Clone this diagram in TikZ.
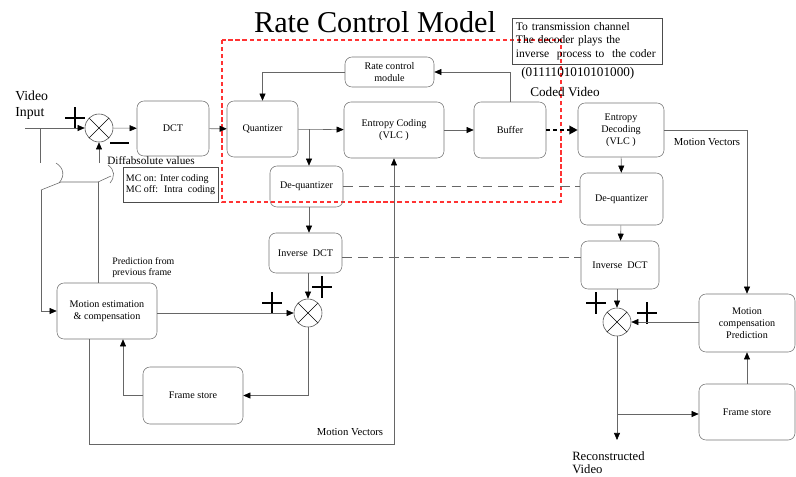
\documentclass[tikz,border=0pt]{standalone}
\usepackage{fontspec}
\setmainfont{Liberation Serif}
\usetikzlibrary{arrows.meta}

\begin{document}
\begin{tikzpicture}[x=0.025cm,y=-0.025cm,
  box/.style={draw=black!55,rounded corners=5pt,align=center,inner sep=1pt,font=\fontsize{7.2}{8.6}\selectfont},
  sqbox/.style={draw=black!70,align=left,inner sep=2pt},
  sumnode/.style={draw=black!70,circle,minimum size=0.7cm,inner sep=0pt,
    path picture={\draw[black] (path picture bounding box.north west) -- (path picture bounding box.south east)
      (path picture bounding box.north east) -- (path picture bounding box.south west);}},
  conn/.style={draw=black!60},
  arr/.style={conn,-{Triangle[length=5pt,width=4.2pt,color=black]}},
  gapline/.style={draw=black!60,dash pattern=on 7pt off 4pt},
  lbl/.style={font=\fontsize{7.6}{8.6}\selectfont},
  plusmark/.pic={\draw[line width=1.8pt] (-10,0) -- (10,0) (0,-11) -- (0,11);}
]
\useasboundingbox (0,0) rectangle (796,476);

% title and notes
\node[anchor=base,font=\fontsize{21.5}{24}\selectfont] (title) at (375,32) {Rate Control Model};
\draw[red!80,dash pattern=on 3pt off 2pt,line width=0.8pt] (222,40) rectangle (561,202);
\node[sqbox,minimum width=3.75cm,minimum height=1.15cm,text width=3.55cm,
  font=\fontsize{8.2}{9.6}\selectfont] (chan) at (587,41)
  {To transmission channel\\The decoder plays the\\inverse~ process to~ the coder};
\node[anchor=base west,inner sep=0pt,font=\fontsize{9.4}{11}\selectfont] (bits) at (521,76) {(0111101010101000)};
\node[anchor=base west,inner sep=0pt,font=\fontsize{9.4}{11}\selectfont] (coded) at (530,96) {Coded Video};
\node[anchor=north west,inner sep=0pt,align=left,font=\fontsize{9.8}{10.8}\selectfont] (vidin) at (15,91) {Video\\Input};

% encoder
\node[sumnode] (sum1) at (99,128) {};
\node[box,minimum width=1.8cm,minimum height=1.375cm] (dct) at (173,128.5) {DCT};
\node[box,minimum width=1.775cm,minimum height=1.4cm] (quant) at (262.5,129) {Quantizer};
\node[box,minimum width=2.225cm,minimum height=0.75cm] (rate) at (389.5,72) {Rate control\\module};
\node[box,minimum width=2.5cm,minimum height=1.4cm] (ent) at (394,130) {Entropy Coding\\(VLC )};
\node[box,minimum width=1.8cm,minimum height=1.4cm] (buf) at (510,130) {Buffer};
\node[box,minimum width=1.825cm,minimum height=1.025cm] (deq) at (306.5,186.5) {De-quantizer};
\node[box,minimum width=1.825cm,minimum height=1.0cm] (idct) at (305.5,253) {Inverse~ DCT};
\node[sumnode] (sum2) at (308,313) {};
\node[box,minimum width=2.5cm,minimum height=1.4cm] (me) at (107,311) {Motion estimation\\\& compensation};
\node[box,minimum width=2.5cm,minimum height=1.425cm] (fs) at (193,395.5) {Frame store};
\node[sqbox,minimum width=2.375cm,minimum height=0.875cm,inner sep=1.5pt,font=\fontsize{7.1}{7.8}\selectfont] (mcsw) at (170.5,184.5)
  {MC on: Inter coding\\MC off:~ Intra~ coding};
\node[anchor=base west,inner sep=0pt,font=\fontsize{8}{9}\selectfont] (diff) at (107,164) {Diffabsolute values};
\node[anchor=north west,inner sep=0pt,align=left,font=\fontsize{7}{7.8}\selectfont] (pred) at (112,257) {Prediction from\\previous frame};
\node[lbl] (mv1) at (350,432) {Motion Vectors};

% decoder
\node[box,minimum width=2.15cm,minimum height=1.35cm] (entd) at (621,130) {Entropy\\Decoding\\(VLC )};
\node[box,minimum width=2.075cm,minimum height=1.3cm] (deqd) at (621.5,199) {De-quantizer};
\node[box,minimum width=1.95cm,minimum height=1.2cm] (idctd) at (620,265) {Inverse~ DCT};
\node[sumnode] (sum3) at (617,322) {};
\node[box,minimum width=2.4cm,minimum height=1.45cm] (mcp) at (747,323) {Motion\\compensation\\Prediction};
\node[box,minimum width=2.4cm,minimum height=1.4cm] (fsd) at (747,412) {Frame store};
\node[lbl] (mv2) at (707,142) {Motion Vectors};
\node[anchor=north west,inner sep=0pt,align=left,font=\fontsize{9}{9.4}\selectfont] (recon) at (572,451) {Reconstructed\\Video};

% plus and minus signs
\pic at (75,118) {plusmark};
\draw[line width=1.8pt] (110,143) -- (129,143);
\pic at (272,303) {plusmark};
\pic at (322,287) {plusmark};
\pic at (596,303) {plusmark};
\pic at (647,313) {plusmark};

% input and switch
\coordinate (vin) at (25,128);
\coordinate (br) at (40,128);
\coordinate (swa) at (40,163);
\coordinate (swb) at (41,190);
\coordinate (swc) at (61,182);
\coordinate (swd) at (98,182);
\coordinate (swe) at (99,163);
\draw[arr] (vin) -- (sum1.west);
\draw[conn] (br) -- (swa);
\draw[arr] (swb) |- (me.west);
\draw[conn] (swb) -- (swc) -- (swd) -- ++(13,-6);
\draw[conn] (56,163) .. controls (64,168) and (65,176) .. (59,183);
\draw[conn] (108,165) .. controls (115,170) and (115,177) .. (110,183);
\draw[conn] (swd) -- (swd |- me.north);
\draw[arr] (swe) -- (sum1.south);

% forward path
\draw[arr] (sum1) -- (dct);
\draw[arr] (dct) -- (quant);
\draw[arr] (quant) -- (ent);
\coordinate (qb) at (309,129);
\draw[arr] (qb) -- (qb |- deq.north);
\draw[arr] (ent) -- (buf);
\draw[arr] (buf.north) |- (rate.east);
\draw[arr] (rate.west) -| (quant.north);
\draw[line width=2pt,dash pattern=on 2.5pt off 2.5pt,-{Triangle[length=6pt,width=6pt]}] (buf) -- (entd);

% local decoder loop
\draw[arr] (qb |- deq.south) -- (qb |- idct.north);
\draw[arr] (sum2 |- idct.south) -- (sum2.north);
\draw[arr] (me.east |- sum2) -- (sum2.west);
\draw[arr] (sum2.south) |- (fs.east);
\draw[arr] (fs.west) -| ([xshift=0.4cm]me.south);
\draw[arr] ([xshift=-0.45cm]me.south) -- ++(0,105) -| (ent.south);

% links to decoder
\draw[gapline] (deq.east) -- (deq.east -| deqd.west);
\draw[gapline] ([yshift=-0.1cm]idct.east) -- ([yshift=-0.1cm]idct.east -| idctd.west);

% decoder
\coordinate (rv) at (617,440);
\coordinate (rb) at (617,414);
\draw[arr] (entd) -- (deqd);
\draw[arr] (deqd) -- (idctd);
\draw[arr] (sum3 |- idctd.south) -- (sum3.north);
\draw[arr] (entd.east) -| (mcp.north);
\draw[arr] (mcp.west |- sum3) -- (sum3.east);
\draw[arr] (sum3.south) -- (rv);
\draw[arr] (rb) -- (rb -| fsd.west);
\draw[arr] (fsd.north) -- (mcp.south);

\end{tikzpicture}
\end{document}
